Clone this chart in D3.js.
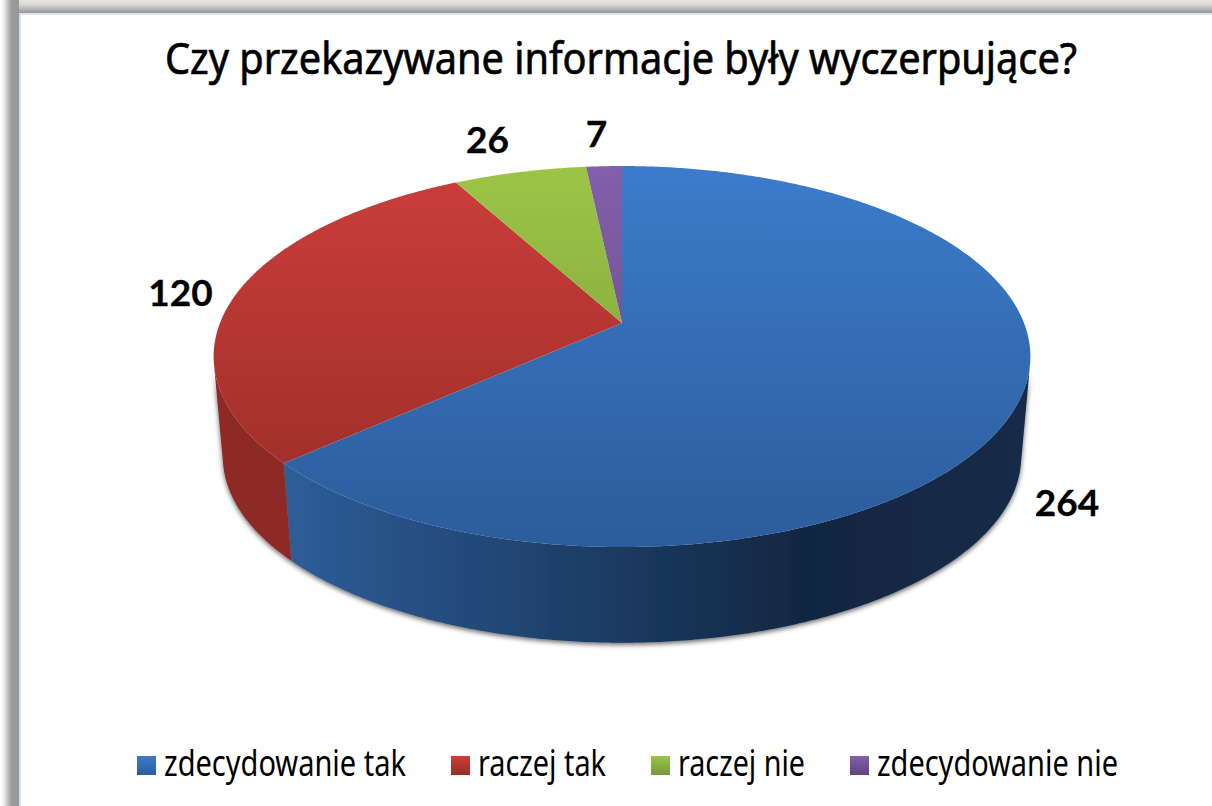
<!DOCTYPE html>
<html><head><meta charset="utf-8">
<script src="https://cdn.jsdelivr.net/npm/d3@7/dist/d3.min.js"></script>
<style>html,body{margin:0;padding:0;background:#fff;overflow:hidden}svg{display:block}text{fill:#000}</style>
</head><body><svg id="c" width="1212" height="806"></svg>
<script>
const title = "Czy przekazywane informacje były wyczerpujące?";
const categories = ["zdecydowanie tak","raczej tak","raczej nie","zdecydowanie nie"];
const values = [264,120,26,7];
const topLight = ["#3c7ccb","#cc3e3a","#9cc546","#8260aa"];
const topDark  = ["#2c5c9b","#962c28","#77973a","#5f4580"];
const sideLeft = ["#2d5b96","#8e2c27","#7a9a3a","#5f4580"];
const sideRight= ["#112742","#7a2521","#5f7a2e","#4a3566"];
const labelX = [1067,180.5,487.5,596.5];
const labelY = [516,306,153,147];
const legendX = [137,451,651,850];
const legendW = [242,128,127,241];

const W=1212,H=806, svg=d3.select("#c"), defs=svg.append("defs");
const cx=622, cy=323, sx=402, sy=184.6, k=0.176, vpY=4800, depth=0.9775;
const rim=a=>{const X=Math.sin(a),Y=Math.cos(a),d=1+k*Y;return [cx+sx*X/d, cy-sy*Y/d];};
const low=p=>[cx+depth*(p[0]-cx), vpY+depth*(p[1]-vpY)];
const arcs=d3.pie().sort(null).value(d=>d)(values);
const line=d3.line();
const samples=(a0,a1)=>{const n=Math.max(8,Math.ceil((a1-a0)*120));return d3.range(n+1).map(i=>a0+(a1-a0)*i/n);};

const lg=(id,x1,y1,x2,y2,stops)=>{const g=defs.append("linearGradient").attr("id",id).attr("gradientUnits","userSpaceOnUse")
  .attr("x1",x1).attr("y1",y1).attr("x2",x2).attr("y2",y2);
  stops.forEach(s=>g.append("stop").attr("offset",s[0]).attr("stop-color",s[1]));};
lg("frL",0,0,19,0,[[0,"#ffffff"],[0.18,"#f2f2f2"],[0.45,"#b8b8b8"],[0.62,"#9b9b9b"],[1,"#979797"]]);
lg("frT",0,0,0,13,[[0,"#e4e4e4"],[0.35,"#d8d8d8"],[0.7,"#b4b4b4"],[1,"#969696"]]);
svg.append("rect").attr("width",W).attr("height",13).attr("fill","url(#frT)");
svg.append("rect").attr("width",19).attr("height",H).attr("fill","url(#frL)");
svg.append("rect").attr("x",19).attr("y",13).attr("width",W-19).attr("height",2).attr("fill","#d9e6f5");
svg.append("rect").attr("x",19).attr("y",13).attr("width",2).attr("height",H-13).attr("fill","#d0dff2");

const f=defs.append("filter").attr("id","sh").attr("x","-5%").attr("y","-5%").attr("width","110%").attr("height","115%");
f.append("feDropShadow").attr("dx",0).attr("dy",2).attr("stdDeviation",2.5).attr("flood-color","#000").attr("flood-opacity",0.6);
values.forEach((v,i)=>{
  lg("top"+i,0,166,0,547,[[0,topLight[i]],[1,topDark[i]]]);
  lg("side"+i,222,0,1030,0,[[0,sideLeft[i]],[0.1,sideLeft[i]],[0.72,sideRight[i]],[1,i==0?"#152a48":sideRight[i]]]);
  lg("leg"+i,0,756,0,775,[[0,topLight[i]],[1,topDark[i]]]);
});

const sides=svg.append("g").attr("filter","url(#sh)");
arcs.forEach(d=>{
  const pts=samples(d.startAngle,d.endAngle);
  let path="";
  for(let j=0;j<pts.length-1;j++){
    const p=rim(pts[j]),q=rim(pts[j+1]),r=low(q),s=low(p);
    const cross=(q[0]-p[0])*(s[1]-p[1])-(q[1]-p[1])*(s[0]-p[0]);
    if(cross<0) path+=line([p,q,r,s])+"Z";
  }
  if(path) sides.append("path").attr("d",path).attr("fill","url(#side"+d.index+")");
});
arcs.forEach(d=>{
  const poly=[[cx,cy]].concat(samples(d.startAngle,d.endAngle).map(rim));
  svg.append("path").attr("d",line(poly)+"Z").attr("fill","url(#top"+d.index+")");
});

svg.append("text").attr("x",621).attr("y",74).attr("text-anchor","middle")
  .style("font-family","'Noto Sans'").attr("font-size",44).attr("stroke","#000").attr("stroke-width",0.7).text(title)
  .attr("textLength",912).attr("lengthAdjust","spacingAndGlyphs");
values.forEach((v,i)=>svg.append("text").attr("x",labelX[i]).attr("y",labelY[i]).attr("text-anchor","middle")
  .style("font-family","Lato").attr("font-size",37).attr("font-weight",700).attr("stroke","#000").attr("stroke-width",0.3).text(v));
categories.forEach((c,i)=>{
  svg.append("rect").attr("x",legendX[i]).attr("y",756).attr("width",19).attr("height",19).attr("fill","url(#leg"+i+")");
  svg.append("text").attr("x",legendX[i]+27).attr("y",776).style("font-family","'Noto Sans'").attr("font-size",36).text(c)
    .attr("textLength",legendW[i]).attr("lengthAdjust","spacingAndGlyphs");
});
</script></body></html>
